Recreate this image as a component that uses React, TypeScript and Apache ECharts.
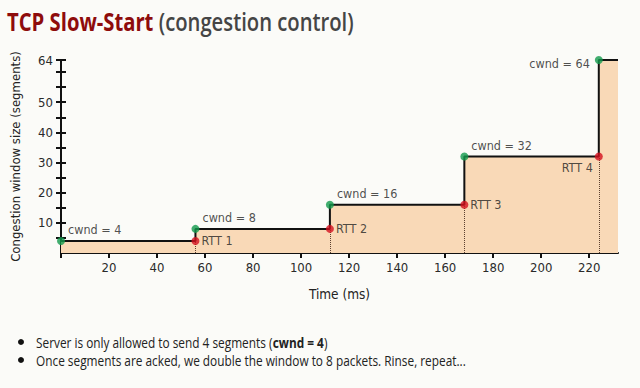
import React, { useEffect, useRef } from "react";
import * as echarts from "echarts";

const times = [0, 56, 112, 168, 224];
const cwnd = [4, 8, 16, 32, 64];
const xEnd = 232;
const rttLabels = ["RTT 1", "RTT 2", "RTT 3", "RTT 4"];
const yTicks = [5, 10, 15, 20, 25, 30, 35, 40, 45, 50, 55, 60, 64];
const yLabels = [10, 20, 30, 40, 50, 64];
const xTicks = [0, 20, 40, 60, 80, 100, 120, 140, 160, 180, 200, 220];
const xLabels = [20, 40, 60, 80, 100, 120, 140, 160, 180, 200, 220];
const titleMain = "TCP Slow-Start";
const titleSub = "(congestion control)";
const bullet1 = ["Server is only allowed to send 4 segments (", "cwnd = 4", ")"];
const bullet2 = "Once segments are acked, we double the window to 8 packets. Rinse, repeat...";

const NARROW = "'DejaVu Sans Condensed', 'DejaVu Sans', sans-serif";
const SANS = "'Open Sans', 'Noto Sans', sans-serif";

export default function App() {
  const ref = useRef<HTMLDivElement>(null);
  useEffect(() => {
    if (!ref.current) return;
    const chart = echarts.init(ref.current, null, { renderer: "svg" });

    const stepData = times.map((t, i) => [t, cwnd[i]]).concat([[xEnd, cwnd[cwnd.length - 1]]]);
    const last = times.length - 1;
    const greenData = times.map((t, i) => ({
      value: [t, cwnd[i]],
      label:
        i === last
          ? { position: "left", offset: [0, 3], distance: 5 }
          : { position: "right", offset: [-2, -11], distance: 5 },
    }));
    const redData = times.slice(1).map((t, i) => ({
      value: [t, cwnd[i]],
      name: rttLabels[i],
      label:
        i === rttLabels.length - 1
          ? { position: "left", offset: [3, 11], distance: 5 }
          : { position: "right", offset: [-2, 0], distance: 4 },
    }));

    const axisColor = "#111";
    const labelStyle = { fontFamily: NARROW, fontSize: 13, color: "#2a2a2a" };

    chart.setOption({
      animation: false,
      backgroundColor: "#fbfbf8",
      grid: { left: 61, right: 22, top: 60, bottom: 135, containLabel: false },
      xAxis: [
        {
          type: "value",
          min: 0,
          max: xEnd,
          position: "bottom",
          name: "Time (ms)",
          nameLocation: "middle",
          nameGap: 34,
          nameTextStyle: { fontFamily: NARROW, fontSize: 13.5, color: "#222" },
          axisLine: { show: true, onZero: false, lineStyle: { color: axisColor, width: 2 } },
          axisTick: { show: true, customValues: xTicks, length: 5, lineStyle: { color: axisColor, width: 2 } },
          axisLabel: { customValues: xLabels, margin: 8, ...labelStyle },
          splitLine: { show: false },
        },
        {
          type: "value",
          min: 0,
          max: xEnd,
          position: "bottom",
          offset: 0,
          axisLine: { show: false },
          axisTick: { show: true, inside: true, customValues: xTicks, length: 5, lineStyle: { color: axisColor, width: 2 } },
          axisLabel: { show: false },
          splitLine: { show: false },
        },
      ],
      yAxis: [
        {
          type: "value",
          min: 0,
          max: 64,
          position: "left",
          name: "Congestion window size (segments)",
          nameLocation: "middle",
          nameGap: 39,
          nameTextStyle: { fontFamily: NARROW, fontSize: 13, color: "#222" },
          axisLine: { show: true, onZero: false, lineStyle: { color: axisColor, width: 2 } },
          axisTick: { show: true, customValues: yTicks, length: 5, lineStyle: { color: axisColor, width: 2 } },
          axisLabel: { customValues: yLabels, margin: 8, ...labelStyle },
          splitLine: { show: false },
        },
        {
          type: "value",
          min: 0,
          max: 64,
          position: "left",
          offset: 0,
          axisLine: { show: false },
          axisTick: { show: true, inside: true, customValues: yTicks, length: 5, lineStyle: { color: axisColor, width: 2 } },
          axisLabel: { show: false },
          splitLine: { show: false },
        },
      ],
      series: [
        {
          type: "line",
          step: "end",
          data: stepData,
          symbol: "none",
          clip: false,
          z: 2,
          lineStyle: { color: "#111", width: 2 },
          areaStyle: { color: "#f9d9b7", opacity: 1 },
        },
        {
          type: "scatter",
          data: redData,
          symbolSize: 8,
          z: 4,
          itemStyle: { color: "#d5101e" },
          label: {
            show: true,
            formatter: (p: any) => p.name,
            fontFamily: NARROW,
            fontSize: 12.5,
            color: "#222",
          },
          markLine: {
            symbol: "none",
            silent: true,
            z: 3,
            label: { show: false },
            lineStyle: { type: "dotted", color: "#5c4030", width: 1 },
            data: times.slice(1).map((t, i) => [{ coord: [t, 0] }, { coord: [t, cwnd[i]] }]),
          },
        },
        {
          type: "scatter",
          data: greenData,
          symbolSize: 8,
          z: 4,
          itemStyle: { color: "#139a4c" },
          label: {
            show: true,
            formatter: (p: any) => "cwnd = " + p.value[1],
            fontFamily: NARROW,
            fontSize: 12.5,
            color: "#222",
          },
        },
      ],
      graphic: [
        {
          type: "text",
          x: 7,
          y: 22,
          scaleX: 0.81,
          style: {
            text: "{a|" + titleMain + "} {b|" + titleSub + "}",
            verticalAlign: "middle",
            fontFamily: SANS,
            fontSize: 25,
            fontWeight: 600,
            rich: {
              a: { fontFamily: SANS, fontSize: 25, fontWeight: 700, fill: "#8e0c0c" },
              b: { fontFamily: SANS, fontSize: 25, fontWeight: 600, fill: "#454545" },
            },
          },
        },
        { type: "circle", shape: { cx: 21, cy: 342, r: 3 }, style: { fill: "#111" } },
        { type: "circle", shape: { cx: 21, cy: 360, r: 3 }, style: { fill: "#111" } },
        {
          type: "text",
          x: 36,
          y: 342,
          scaleX: 0.79,
          style: {
            text: "{n|" + bullet1[0] + "}{b|" + bullet1[1] + "}{n|" + bullet1[2] + "}",
            verticalAlign: "middle",
            fontFamily: SANS,
            fontSize: 15,
            rich: {
              n: { fontFamily: SANS, fontSize: 15, fill: "#222" },
              b: { fontFamily: SANS, fontSize: 15, fontWeight: 700, fill: "#222" },
            },
          },
        },
        {
          type: "text",
          x: 36,
          y: 360,
          scaleX: 0.79,
          style: {
            text: bullet2,
            verticalAlign: "middle",
            fontFamily: SANS,
            fontSize: 15,
            fill: "#222",
          },
        },
      ],
    });
    return () => chart.dispose();
  }, []);
  return (
    <div
      ref={ref}
      style={{ position: "fixed", left: 0, top: 0, width: 640, height: 388 }}
    />
  );
}
